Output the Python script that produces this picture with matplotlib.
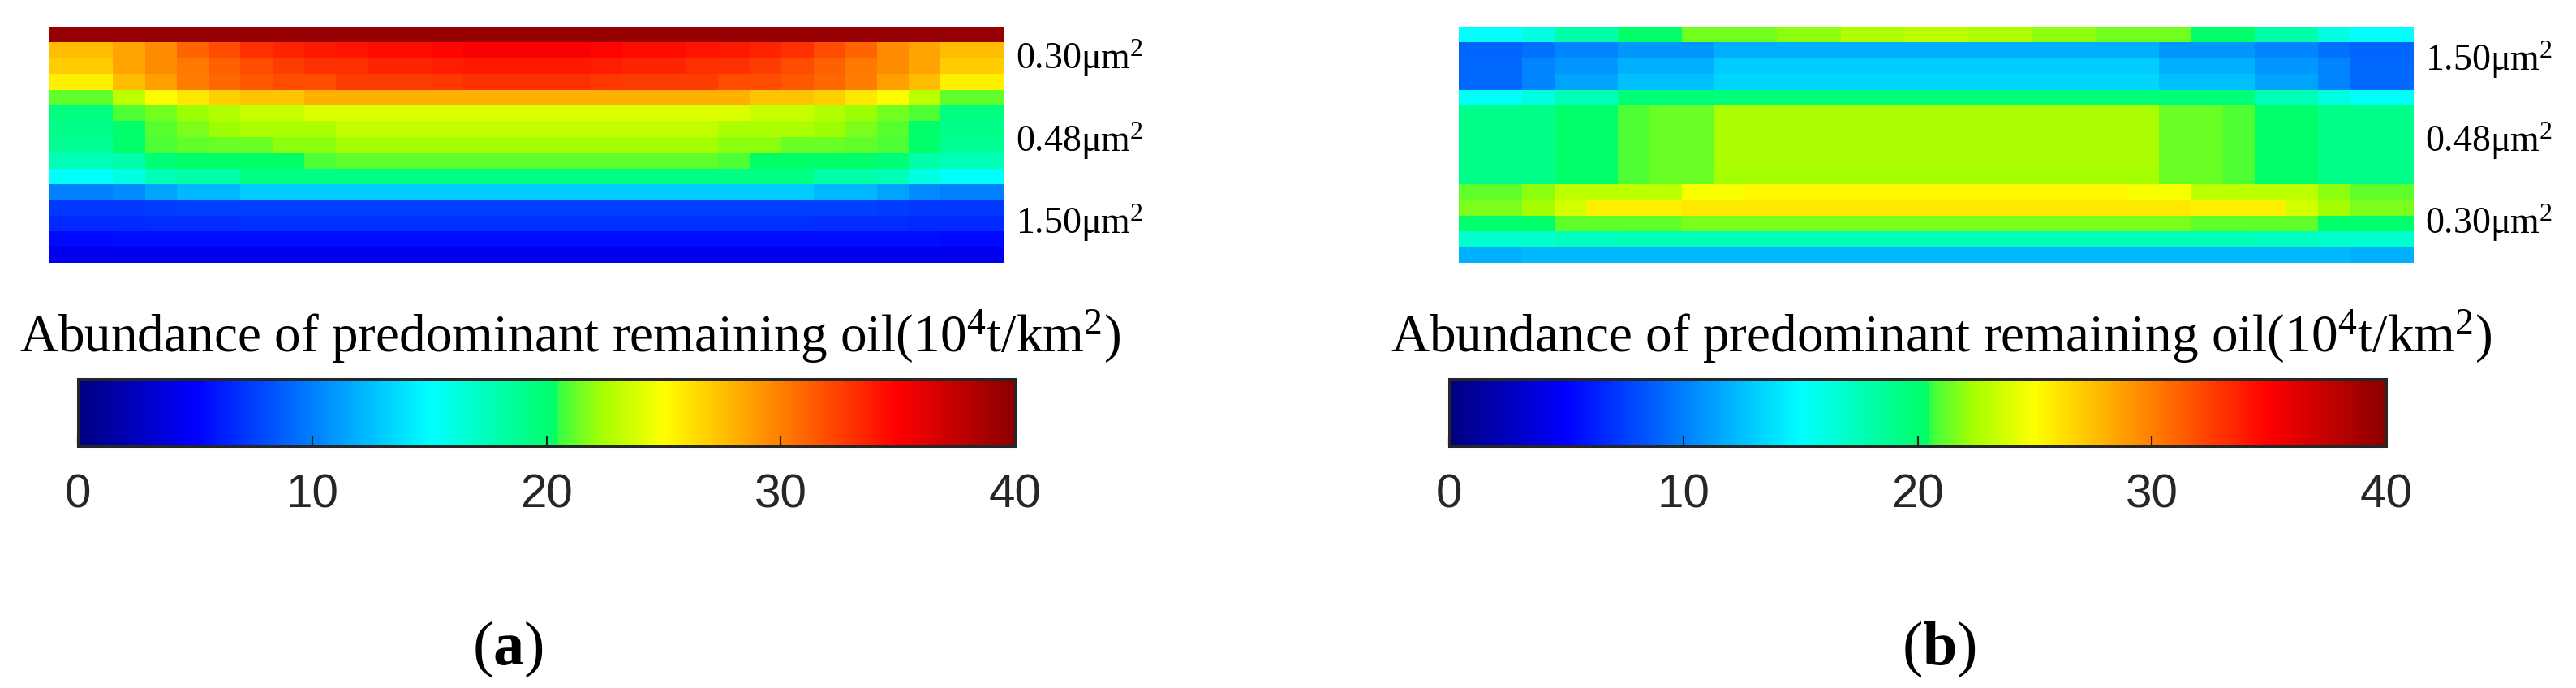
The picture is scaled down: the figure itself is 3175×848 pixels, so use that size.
import numpy as np
import matplotlib
matplotlib.use('Agg')
import matplotlib.pyplot as plt
import matplotlib.transforms as mtransforms
from matplotlib.colors import LinearSegmentedColormap

plt.rcParams['font.family'] = ['Liberation Sans', 'DejaVu Sans']
plt.rcParams['mathtext.fontset'] = 'custom'
plt.rcParams['mathtext.rm'] = 'Liberation Serif'
plt.rcParams['mathtext.it'] = 'Liberation Serif:italic'
plt.rcParams['mathtext.bf'] = 'Liberation Serif:bold'

# ---- data (10^4 t/km^2), 15 layers x 30 cells ----
cbar_ticks = [0, 10, 20, 30, 40]
cbar_title = 'Abundance of predominant remaining oil(10$^4$t/km$^2$)'

perm_a = ['0.30', '0.48', '1.50']
perm_b = ['1.50', '0.48', '0.30']

oil_a = [
    [39.5, 39.5, 39.5, 39.5, 39.5, 39.5, 39.5, 39.5, 39.5, 39.5, 39.5, 39.5, 39.5, 39.5, 39.5,
     39.5, 39.5, 39.5, 39.5, 39.5, 39.5, 39.5, 39.5, 39.5, 39.5, 39.5, 39.5, 39.5, 39.5, 39.5],
    [27.5, 27.5, 28.5, 29.5, 31, 32, 33, 33.5, 34, 34.2, 34.5, 34.5, 34.8, 35, 35,
     35, 35, 34.8, 34.5, 34.5, 34.2, 34, 33.5, 33, 32, 31, 29.5, 28.5, 27.5, 27.5],
    [27, 27, 28.5, 29.5, 30.3, 31.2, 32, 32.5, 33, 33, 33.5, 33.5, 33.8, 34, 34,
     34, 34, 33.8, 33.5, 33.5, 33, 33, 32.5, 32, 31.2, 30.3, 29.5, 28.5, 27, 27],
    [25.5, 25.5, 27.5, 28.7, 30, 30.8, 31.5, 32, 32, 32.5, 32.5, 32.5, 32.8, 33, 33,
     33, 33, 32.8, 32.5, 32.5, 32.5, 32, 32, 31.5, 30.8, 30, 28.7, 27.5, 25.5, 25.5],
    [21.2, 21.2, 23, 25, 25.8, 26.8, 27.3, 27.3, 28, 28, 28, 28, 28, 28, 28,
     28, 28, 28, 28, 28, 28, 28, 27.3, 27.3, 26.8, 25.8, 25, 23, 21.2, 21.2],
    [19.5, 19.5, 20.8, 21.5, 22.2, 22.8, 23.3, 23.3, 24, 24, 24, 24, 24, 24, 24,
     24, 24, 24, 24, 24, 24, 24, 23.3, 23.3, 22.8, 22.2, 21.5, 20.8, 19.5, 19.5],
    [19.2, 19.2, 20.3, 21, 21.6, 22.2, 22.6, 22.6, 22.6, 23.2, 23.2, 23.2, 23.2, 23.2, 23.2,
     23.2, 23.2, 23.2, 23.2, 23.2, 23.2, 22.6, 22.6, 22.6, 22.2, 21.6, 21, 20.3, 19.2, 19.2],
    [18.8, 18.8, 20.2, 20.8, 21.2, 21.4, 21.4, 21.9, 21.9, 22.4, 22.4, 22.4, 22.4, 22.4, 22.4,
     22.4, 22.4, 22.4, 22.4, 22.4, 22.4, 21.9, 21.9, 21.4, 21.4, 21.2, 20.8, 20.2, 18.8, 18.8],
    [17.5, 17.5, 18, 19.7, 20.2, 20.4, 20.4, 20.4, 20.8, 21.1, 21.1, 21.1, 21.1, 21.1, 21.1,
     21.1, 21.1, 21.1, 21.1, 21.1, 21.1, 20.8, 20.4, 20.4, 20.4, 20.2, 19.7, 18, 17.5, 17.5],
    [15, 15, 16, 17.5, 18, 18, 19.3, 19.3, 19.3, 19.3, 19.3, 19.3, 19.3, 19.3, 19.3,
     19.3, 19.3, 19.3, 19.3, 19.3, 19.3, 19.3, 19.3, 19.3, 18, 18, 17.5, 16, 15, 15],
    [10, 10, 10.5, 11.5, 12.3, 12.3, 13, 13, 13, 13, 13, 13, 13, 13, 13,
     13, 13, 13, 13, 13, 13, 13, 13, 13, 12.3, 12.3, 11.5, 10.5, 10, 10],
    [7.2, 7.2, 7.3, 7.4, 7.5, 7.5, 7.6, 7.6, 7.6, 7.6, 7.6, 7.6, 7.6, 7.6, 7.6,
     7.6, 7.6, 7.6, 7.6, 7.6, 7.6, 7.6, 7.6, 7.6, 7.5, 7.5, 7.4, 7.3, 7.2, 7.2],
    [6.6, 6.6, 6.7, 6.8, 6.8, 6.8, 6.9, 6.9, 6.9, 6.9, 6.9, 6.9, 6.9, 6.9, 6.9,
     6.9, 6.9, 6.9, 6.9, 6.9, 6.9, 6.9, 6.9, 6.9, 6.8, 6.8, 6.8, 6.7, 6.6, 6.6],
    [5.4, 5.4, 5.5, 5.5, 5.5, 5.5, 5.5, 5.5, 5.5, 5.5, 5.5, 5.5, 5.5, 5.5, 5.5,
     5.5, 5.5, 5.5, 5.5, 5.5, 5.5, 5.5, 5.5, 5.5, 5.5, 5.5, 5.5, 5.5, 5.4, 5.4],
    [4.4, 4.4, 4.4, 4.4, 4.4, 4.4, 4.4, 4.4, 4.4, 4.4, 4.4, 4.4, 4.4, 4.4, 4.4,
     4.4, 4.4, 4.4, 4.4, 4.4, 4.4, 4.4, 4.4, 4.4, 4.4, 4.4, 4.4, 4.4, 4.4, 4.4],
]

oil_b = [
    [15, 15, 16, 18, 18, 20.2, 20.2, 21.5, 21.5, 21.5, 22, 22, 22.7, 22.7, 23,
     23, 22.7, 22.7, 22, 22, 21.5, 21.5, 21.5, 20.2, 20.2, 18, 18, 16, 15, 15],
    [9, 9, 9.5, 10.2, 10.2, 11, 11, 11, 12, 12, 12, 12, 12, 12, 12,
     12, 12, 12, 12, 12, 12, 12, 11, 11, 11, 10.2, 10.2, 9.5, 9, 9],
    [9.2, 9.2, 10.2, 11, 11, 12, 12, 12, 13, 13, 13, 13, 13, 13, 13,
     13, 13, 13, 13, 13, 13, 13, 12, 12, 12, 11, 11, 10.2, 9.2, 9.2],
    [9.2, 9.2, 10.2, 11.5, 11.5, 12.5, 12.5, 12.5, 13.4, 13.4, 13.4, 13.4, 13.4, 13.4, 13.4,
     13.4, 13.4, 13.4, 13.4, 13.4, 13.4, 13.4, 12.5, 12.5, 12.5, 11.5, 11.5, 10.2, 9.2, 9.2],
    [15.2, 15.2, 16, 17.5, 17.5, 19.8, 19.8, 19.8, 19.8, 19.8, 19.8, 19.8, 19.8, 19.8, 19.8,
     19.8, 19.8, 19.8, 19.8, 19.8, 19.8, 19.8, 19.8, 19.8, 19.8, 17.5, 17.5, 16, 15.2, 15.2],
    [19.2, 19.2, 19.2, 20.3, 20.3, 20.8, 21.4, 21.4, 22.6, 22.6, 22.6, 22.6, 22.6, 22.6, 22.6,
     22.6, 22.6, 22.6, 22.6, 22.6, 22.6, 22.6, 21.4, 21.4, 20.8, 20.3, 20.3, 19.2, 19.2, 19.2],
    [19.2, 19.2, 19.2, 20.3, 20.3, 20.8, 21.4, 21.4, 22.6, 22.6, 22.6, 22.6, 22.6, 22.6, 22.6,
     22.6, 22.6, 22.6, 22.6, 22.6, 22.6, 22.6, 21.4, 21.4, 20.8, 20.3, 20.3, 19.2, 19.2, 19.2],
    [19.2, 19.2, 19.2, 20.3, 20.3, 20.8, 21.4, 21.4, 22.5, 22.5, 22.5, 22.5, 22.5, 22.5, 22.5,
     22.5, 22.5, 22.5, 22.5, 22.5, 22.5, 22.5, 21.4, 21.4, 20.8, 20.3, 20.3, 19.2, 19.2, 19.2],
    [19.2, 19.2, 19.2, 20.3, 20.3, 20.8, 21.4, 21.4, 22.5, 22.5, 22.5, 22.5, 22.5, 22.5, 22.5,
     22.5, 22.5, 22.5, 22.5, 22.5, 22.5, 22.5, 21.4, 21.4, 20.8, 20.3, 20.3, 19.2, 19.2, 19.2],
    [19.2, 19.2, 19.2, 20.3, 20.3, 20.8, 21.4, 21.4, 22.4, 22.4, 22.4, 22.4, 22.4, 22.4, 22.4,
     22.4, 22.4, 22.4, 22.4, 22.4, 22.4, 22.4, 21.4, 21.4, 20.8, 20.3, 20.3, 19.2, 19.2, 19.2],
    [21.2, 21.2, 21.9, 23, 23, 23, 23, 24.8, 24.8, 25.2, 25.2, 25.2, 25.2, 25.2, 25.2,
     25.2, 25.2, 25.2, 25.2, 25.2, 25.2, 24.8, 24.8, 23, 23, 23, 23, 21.9, 21.2, 21.2],
    [21.7, 21.7, 22.4, 23.7, 25.5, 25.5, 25.5, 25.8, 25.8, 25.8, 25.8, 25.8, 25.8, 25.8, 25.8,
     25.8, 25.8, 25.8, 25.8, 25.8, 25.8, 25.8, 25.8, 25.5, 25.5, 25.5, 23.7, 22.4, 21.7, 21.7],
    [20.3, 20.3, 20.3, 21.2, 21.2, 21.2, 21.2, 21.7, 21.7, 21.7, 21.7, 21.7, 21.7, 21.7, 21.7,
     21.7, 21.7, 21.7, 21.7, 21.7, 21.7, 21.7, 21.7, 21.2, 21.2, 21.2, 21.2, 20.3, 20.3, 20.3],
    [16.8, 16.8, 16.8, 17.2, 17.2, 17.6, 17.6, 17.6, 17.6, 17.6, 17.6, 17.6, 17.6, 17.6, 17.6,
     17.6, 17.6, 17.6, 17.6, 17.6, 17.6, 17.6, 17.6, 17.6, 17.6, 17.2, 17.2, 16.8, 16.8, 16.8],
    [12, 12, 12.3, 12.3, 12.3, 12.3, 12.3, 12.3, 12.3, 12.3, 12.3, 12.3, 12.3, 12.3, 12.3,
     12.3, 12.3, 12.3, 12.3, 12.3, 12.3, 12.3, 12.3, 12.3, 12.3, 12.3, 12.3, 12.3, 12, 12],
]

# jet-like map used by the simulator (sharp step at the green)
cmap = LinearSegmentedColormap.from_list('oil', [
    (0.000, (0.0, 0.0, 0.5)),
    (0.125, (0.0, 0.0, 1.0)),
    (0.250, (0.0, 0.5, 1.0)),
    (0.375, (0.0, 1.0, 1.0)),
    (0.510, (0.0, 1.0, 0.4)),
    (0.515, (0.25, 1.0, 0.25)),
    (0.560, (0.65, 1.0, 0.0)),
    (0.625, (1.0, 1.0, 0.0)),
    (0.750, (1.0, 0.5, 0.0)),
    (0.875, (1.0, 0.0, 0.0)),
    (1.000, (0.55, 0.0, 0.0)),
])

W, H = 3175, 848
fig = plt.figure(figsize=(W / 100, H / 100), dpi=100)


def panel(data, perms, perm_rows, map_x, cb_x, title_x, tag, tag_x):
    ax = fig.add_axes([map_x / W, 1 - 324 / H, 1177 / W, 291 / H])
    im = ax.imshow(np.array(data), cmap=cmap, vmin=0, vmax=40,
                   aspect='auto', interpolation='nearest')
    ax.set_axis_off()
    tr = mtransforms.blended_transform_factory(ax.transAxes, ax.transData)
    for p, r in zip(perms, perm_rows):
        ax.text(1.012, r, p + 'μm$^2$', transform=tr, va='baseline',
                family='Liberation Serif', fontsize=33)

    cax = fig.add_axes([cb_x / W, 1 - 550 / H, 1155 / W, 83 / H])
    cb = fig.colorbar(im, cax=cax, orientation='horizontal', ticks=cbar_ticks)
    cb.outline.set_edgecolor('#262626')
    cb.outline.set_linewidth(2.2)
    cax.tick_params(axis='x', direction='in', length=9, width=1.6,
                    color='#262626', labelcolor='#262626', labelsize=42, pad=24)

    fig.text(title_x / W, 1 - 433 / H, cbar_title, ha='center', va='baseline',
             family='Liberation Serif', fontsize=47)
    fig.text(tag_x / W, 1 - 800 / H, '(' + r'$\mathbf{' + tag + '}$' + ')',
             ha='center', va='center', family='Liberation Serif', fontsize=55)


panel(oil_a, perm_a, [2.18, 7.44, 12.64], 61, 96, 703, 'a', 626)
panel(oil_b, perm_b, [2.28, 7.44, 12.64], 1798, 1786, 2393, 'b', 2390)

fig.savefig('out.png', dpi=100, facecolor='white')
